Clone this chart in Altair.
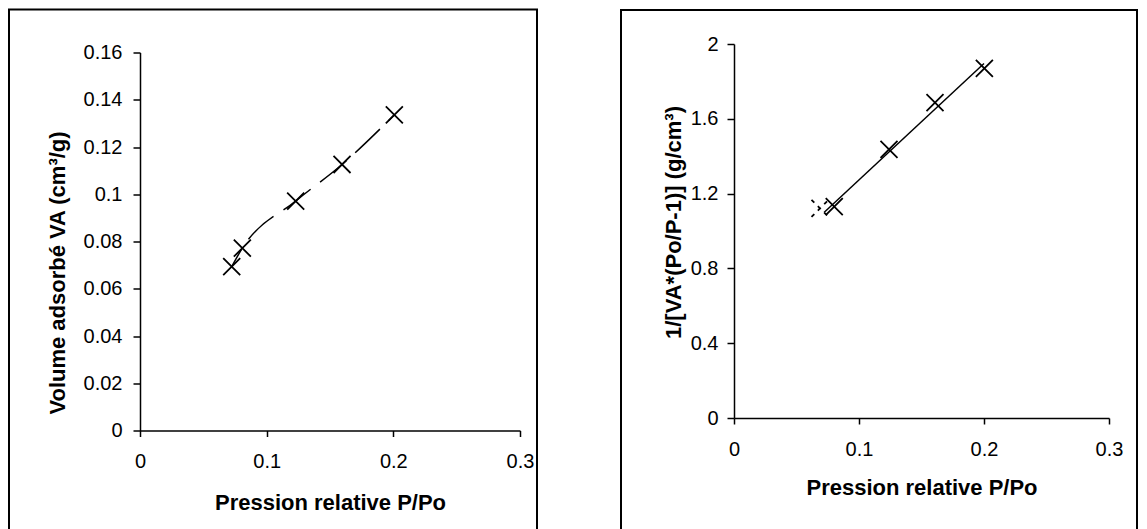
import altair as alt
import pandas as pd

# Left chart: adsorption isotherm
p_left = [0.0724, 0.0808, 0.1229, 0.1595, 0.2008]
va_left = [0.0694, 0.0772, 0.0971, 0.1126, 0.1336]

# Right chart: BET transform
p_right = [0.0802, 0.1240, 0.1608, 0.2003]
bet_right = [1.130, 1.437, 1.686, 1.870]
p_right_extra = [0.0688]
bet_right_extra = [1.121]

x_ticks = [0, 0.1, 0.2, 0.3]
y_left_ticks = [0, 0.02, 0.04, 0.06, 0.08, 0.1, 0.12, 0.14, 0.16]
y_right_ticks = [0, 0.4, 0.8, 1.2, 1.6, 2]

FONT = "Liberation Sans"
XSHAPE = "M-1,-1L1,1M-1,1L1,-1"

df_left = pd.DataFrame({"x": p_left, "y": va_left})
df_right = pd.DataFrame({"x": p_right, "y": bet_right})
df_extra = pd.DataFrame({"x": p_right_extra, "y": bet_right_extra})
frame_data = alt.Data(values=[{"a": 1}])

# ---------- Left ----------
xl = alt.X("x:Q", scale=alt.Scale(domain=[0, 0.3], nice=False),
           axis=alt.Axis(values=x_ticks, format="~g", title="Pression relative P/Po",
                         labelPadding=15, titlePadding=21, tickSize=6))
yl = alt.Y("y:Q", scale=alt.Scale(domain=[0, 0.16], nice=False),
           axis=alt.Axis(values=y_left_ticks, format="~g", title="Volume adsorbé VA (cm³/g)",
                         labelPadding=11, titlePadding=14, tickSize=7, titleY=220))

left_line = alt.Chart(df_left).mark_line(color="black", strokeWidth=1.5, strokeDashOffset=14,
                                         strokeDash=[34, 12], interpolate="monotone").encode(x=xl, y=yl)
left_pts = alt.Chart(df_left).mark_point(shape=XSHAPE, size=290, color="black",
                                         strokeWidth=1.8, filled=False, opacity=1).encode(x=xl, y=yl)
left_frame = alt.Chart(frame_data).mark_rect(fill=None, stroke="black", strokeWidth=2, clip=False).encode(
    x=alt.value(-131), x2=alt.value(397), y=alt.value(-43), y2=alt.value(487))

left = alt.layer(left_frame, left_line, left_pts).properties(width=380, height=378)

# ---------- Right ----------
xr = alt.X("x:Q", scale=alt.Scale(domain=[0, 0.3], nice=False),
           axis=alt.Axis(values=x_ticks, format="~g", title="Pression relative P/Po",
                         labelPadding=15, titlePadding=18, tickSize=6))
yr = alt.Y("y:Q", scale=alt.Scale(domain=[0, 2], nice=False),
           axis=alt.Axis(values=y_right_ticks, format="~g", title="1/[VA*(Po/P-1)] (g/cm³)",
                         labelPadding=9, titlePadding=5, tickSize=7, titleY=178))

right_line = alt.Chart(df_right).transform_regression("x", "y", extent=[0.072, 0.2]).mark_line(
    color="black", strokeWidth=1.5).encode(x=xr, y=yr)
right_pts = alt.Chart(df_right).mark_point(shape=XSHAPE, size=290, color="black",
                                           strokeWidth=1.8, filled=False, opacity=1).encode(x=xr, y=yr)
right_extra = alt.Chart(df_extra).mark_point(shape=XSHAPE, size=290, color="black",
                                             strokeWidth=1.8, filled=False, opacity=1,
                                             strokeDash=[4, 5]).encode(x=xr, y=yr)
right_frame = alt.Chart(frame_data).mark_rect(fill=None, stroke="black", strokeWidth=2, clip=False).encode(
    x=alt.value(-113), x2=alt.value(403), y=alt.value(-34), y2=alt.value(504))

right = alt.layer(right_frame, right_line, right_extra, right_pts).properties(width=375, height=374)

chart = alt.hconcat(left, right, spacing=82, center=True).properties(
    padding={"left": 0, "top": 0, "right": 0, "bottom": 0}
).configure_view(stroke=None).configure_axis(
    grid=False, domainColor="black", tickColor="black", domainWidth=1.5, tickWidth=1.5,
    labelFlush=False, labelOverlap=False,
    labelFont=FONT, labelFontSize=20, labelColor="black",
    titleFont=FONT, titleFontSize=22, titleFontWeight="bold", titleColor="black"
)

chart.save("out.html", embed_options={"renderer": "svg", "actions": False})
